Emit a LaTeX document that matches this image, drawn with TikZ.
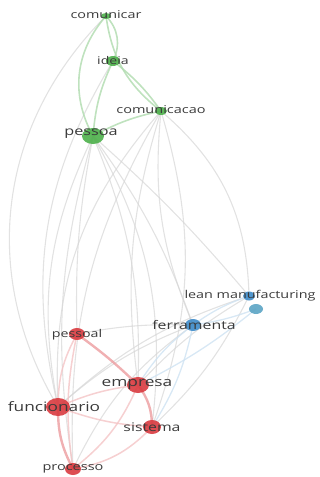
\documentclass[tikz,border=0pt]{standalone}
\usepackage{fontspec}
\setmainfont{Open Sans}[FakeStretch=1.33]
\usetikzlibrary{shapes.geometric, backgrounds}
\definecolor{cgreen}{HTML}{4DB04A}
\definecolor{cred}{HTML}{D93A3F}
\definecolor{cblue}{HTML}{3D8BC9}
\definecolor{cteal}{HTML}{5BA4C4}
\definecolor{cedge}{HTML}{D6D6D6}
\definecolor{ctext}{HTML}{3A3A3A}
\tikzset{
  every picture/.style={x=1pt, y=-1pt},
  dot/.style={ellipse, fill=#1, inner sep=0pt, opacity=0.9},
  kw/.style={text=ctext, inner sep=0pt},
  link/.style={draw=cedge, line width=1.1pt, opacity=0.7},
  linkg/.style={draw=cgreen!45, line width=1.6pt, opacity=0.8},
  linkr/.style={draw=cred!30, line width=1.5pt, opacity=0.8},
  linkrr/.style={draw=cred!50, line width=2.4pt, opacity=0.8},
  linkb/.style={draw=cblue!25, line width=1.3pt, opacity=0.8},
}

\begin{document}
\begin{tikzpicture}
  \useasboundingbox (0,0) rectangle (320,477);
  % ---------------- dots
  \node[dot=cgreen, minimum width=10pt, minimum height=6pt] (comunicar) at (106,16) {};
  \node[dot=cgreen, minimum width=14pt, minimum height=10pt] (ideia) at (113,61) {};
  \node[dot=cgreen, minimum width=12pt, minimum height=8pt] (comunicacao) at (161,111) {};
  \node[dot=cgreen, minimum width=22pt, minimum height=16pt] (pessoa) at (93,136) {};
  \node[dot=cblue, minimum width=12pt, minimum height=9pt] (lean) at (249,296) {};
  \node[dot=cteal, minimum width=14pt, minimum height=10pt] (leanb) at (256,309) {};
  \node[dot=cblue, minimum width=16pt, minimum height=12pt] (ferramenta) at (193,325) {};
  \node[dot=cred, minimum width=16pt, minimum height=12pt] (pessoal) at (77,334) {};
  \node[dot=cred, minimum width=22pt, minimum height=16pt] (empresa) at (138,385) {};
  \node[dot=cred, minimum width=24pt, minimum height=18pt] (funcionario) at (58,407) {};
  \node[dot=cred, minimum width=18pt, minimum height=14pt] (sistema) at (152,427) {};
  \node[dot=cred, minimum width=16pt, minimum height=12pt] (processo) at (73,469) {};
  % ---------------- links
  \begin{scope}[on background layer]
    \foreach \a/\b/\bend in {comunicar/funcionario/-38, ideia/funcionario/-22,
        pessoa/funcionario/-18, pessoa/processo/-12, pessoa/pessoal/-6,
        pessoa/empresa/12, pessoa/sistema/18, pessoa/ferramenta/8, pessoa/lean/4,
        comunicacao/funcionario/-22, comunicacao/processo/-16, comunicacao/empresa/-12,
        comunicacao/ferramenta/-14, comunicacao/sistema/18, comunicacao/lean/24,
        funcionario/ferramenta/10, funcionario/lean/12, processo/ferramenta/14,
        empresa/lean/8, sistema/lean/-10, pessoal/ferramenta/6}
      \draw[link] (\a.center) to[bend left=\bend] (\b.center);
    \foreach \a/\b/\bend in {comunicar/ideia/35, comunicar/pessoa/-35,
        comunicar/comunicacao/-22, ideia/comunicacao/8, ideia/pessoa/-10,
        comunicacao/pessoa/-8}
      \draw[linkg] (\a.center) to[bend left=\bend] (\b.center);
    \foreach \a/\b/\bend in {pessoal/funcionario/-14,
        funcionario/empresa/8, funcionario/sistema/-8,
        empresa/processo/14, sistema/processo/18, pessoal/processo/-10}
      \draw[linkr] (\a.center) to[bend left=\bend] (\b.center);
    \foreach \a/\b/\bend in {pessoal/empresa/4, empresa/sistema/18,
        funcionario/processo/-14}
      \draw[linkrr] (\a.center) to[bend left=\bend] (\b.center);
    \foreach \a/\b/\bend in {ferramenta/lean/8, ferramenta/leanb/-6,
        empresa/ferramenta/10, sistema/ferramenta/-10, empresa/leanb/-6}
      \draw[linkb] (\a.center) to[bend left=\bend] (\b.center);
  \end{scope}
  % ---------------- labels
  \node[kw, font=\fontsize{10.8}{12}\selectfont] (comunicar-l) at (106,15) {comunicar};
  \node[kw, font=\fontsize{10.6}{12}\selectfont] (ideia-l) at (113,61) {ideia};
  \node[kw, font=\fontsize{10.9}{12}\selectfont] (comunicacao-l) at (161,110) {comunicacao};
  \node[kw, font=\fontsize{12.2}{14}\selectfont] (pessoa-l) at (91,134) {pessoa};
  \node[kw, font=\fontsize{10.8}{12}\selectfont] (lean-l) at (250,296) {lean manufacturing};
  \node[kw, font=\fontsize{11.9}{13}\selectfont] (ferramenta-l) at (194,325) {ferramenta};
  \node[kw, font=\fontsize{10.7}{12}\selectfont] (pessoal-l) at (77,335) {pessoal};
  \node[kw, font=\fontsize{13}{15}\selectfont] (empresa-l) at (137,385) {empresa};
  \node[kw, font=\fontsize{13}{15}\selectfont] (funcionario-l) at (54,407) {funcionario};
  \node[kw, font=\fontsize{11.9}{13}\selectfont] (sistema-l) at (152,427) {sistema};
  \node[kw, font=\fontsize{10.9}{12}\selectfont] (processo-l) at (73,469) {processo};
\end{tikzpicture}
\end{document}
